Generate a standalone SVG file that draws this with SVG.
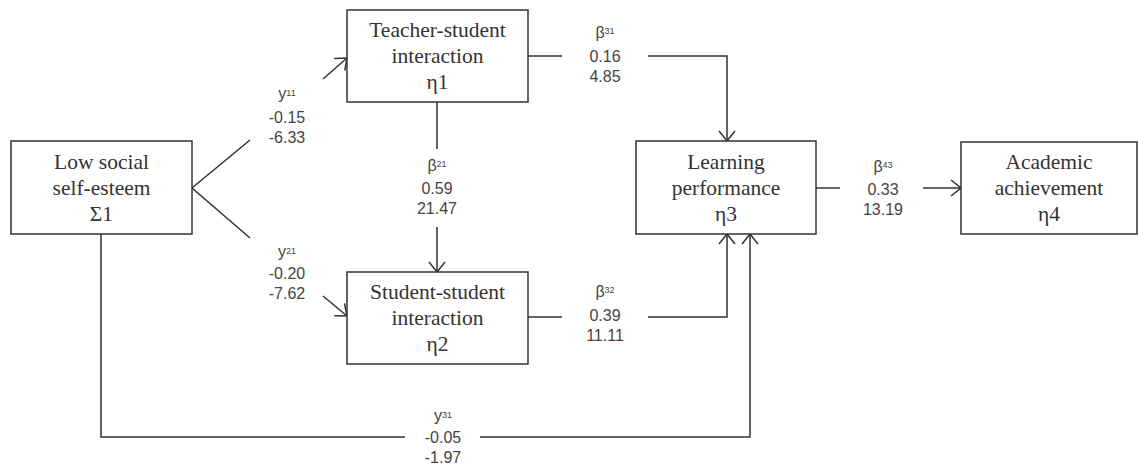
<svg xmlns="http://www.w3.org/2000/svg" width="1139" height="465" viewBox="0 0 1139 465">
<style>
.box{fill:#fff;stroke:#333;stroke-width:1.5}
.nt{font-family:"Liberation Serif","Times New Roman",serif;font-size:21.5px;fill:#333;text-anchor:middle}
.lb{font-family:"Liberation Sans",Arial,sans-serif;font-size:16px;fill:#444;text-anchor:middle}
.sup{font-size:9px}
.ln{fill:none;stroke:#333;stroke-width:1.5}
</style>
<defs>
<marker id="arr" viewBox="0 0 12 18" refX="11" refY="9" markerWidth="12" markerHeight="18" orient="auto" markerUnits="userSpaceOnUse">
<path d="M1,1 L11,9 L1,17" fill="none" stroke="#333" stroke-width="1.5"/>
</marker>
</defs>
<rect width="1139" height="465" fill="#fff"/>
<g id="connectors">
<path class="ln" d="M250,140 L192,188 L250,238"/>
<path class="ln" d="M323,79 L347,58" marker-end="url(#arr)"/>
<path class="ln" d="M323,296 L347,316" marker-end="url(#arr)"/>
<path class="ln" d="M528,56 L562,56"/>
<path class="ln" d="M648,56 L727,56 L727,141" marker-end="url(#arr)"/>
<path class="ln" d="M437,102 L437,149"/>
<path class="ln" d="M437,227 L437,272" marker-end="url(#arr)"/>
<path class="ln" d="M528,317 L562,317"/>
<path class="ln" d="M648,317 L727,317 L727,234" marker-end="url(#arr)"/>
<path class="ln" d="M101,234 L101,437 L405,437"/>
<path class="ln" d="M480,437 L750,437 L750,234" marker-end="url(#arr)"/>
<path class="ln" d="M816,188 L840,188"/>
<path class="ln" d="M923,188 L961,188" marker-end="url(#arr)"/>
<text class="lb" x="287" y="99">y<tspan class="sup" dy="-3">11</tspan></text>
<text class="lb" x="287" y="123">-0.15</text>
<text class="lb" x="287" y="143">-6.33</text>
<text class="lb" x="287" y="257">y<tspan class="sup" dy="-3">21</tspan></text>
<text class="lb" x="287" y="279">-0.20</text>
<text class="lb" x="287" y="299">-7.62</text>
<text class="lb" x="605" y="38">β<tspan class="sup" dy="-4">31</tspan></text>
<text class="lb" x="605" y="62">0.16</text>
<text class="lb" x="605" y="82">4.85</text>
<text class="lb" x="437" y="171">β<tspan class="sup" dy="-4">21</tspan></text>
<text class="lb" x="437" y="194">0.59</text>
<text class="lb" x="437" y="214">21.47</text>
<text class="lb" x="605" y="297">β<tspan class="sup" dy="-4">32</tspan></text>
<text class="lb" x="605" y="321">0.39</text>
<text class="lb" x="605" y="341">11.11</text>
<text class="lb" x="443" y="421">y<tspan class="sup" dy="-3">31</tspan></text>
<text class="lb" x="443" y="443">-0.05</text>
<text class="lb" x="443" y="463">-1.97</text>
<text class="lb" x="883" y="172">β<tspan class="sup" dy="-4">43</tspan></text>
<text class="lb" x="883" y="195">0.33</text>
<text class="lb" x="883" y="215">13.19</text>
</g>
<g id="n-low">
<rect class="box" x="11" y="141" width="181" height="93"/>
<text class="nt" x="101.5" y="169">Low social</text>
<text class="nt" x="101.5" y="195">self-esteem</text>
<text class="nt" x="101.5" y="221">Σ1</text>
</g>
<g id="n-teacher">
<rect class="box" x="347" y="10" width="181" height="92"/>
<text class="nt" x="437.5" y="37">Teacher-student</text>
<text class="nt" x="437.5" y="63">interaction</text>
<text class="nt" x="437.5" y="89">η1</text>
</g>
<g id="n-student">
<rect class="box" x="347" y="272" width="181" height="92"/>
<text class="nt" x="437.5" y="299">Student-student</text>
<text class="nt" x="437.5" y="325">interaction</text>
<text class="nt" x="437.5" y="351">η2</text>
</g>
<g id="n-learning">
<rect class="box" x="636" y="141" width="180" height="93"/>
<text class="nt" x="726" y="169">Learning</text>
<text class="nt" x="726" y="195">performance</text>
<text class="nt" x="726" y="221">η3</text>
</g>
<g id="n-academic">
<rect class="box" x="961" y="142" width="176" height="92"/>
<text class="nt" x="1049" y="169">Academic</text>
<text class="nt" x="1049" y="195">achievement</text>
<text class="nt" x="1049" y="221">η4</text>
</g>
</svg>
